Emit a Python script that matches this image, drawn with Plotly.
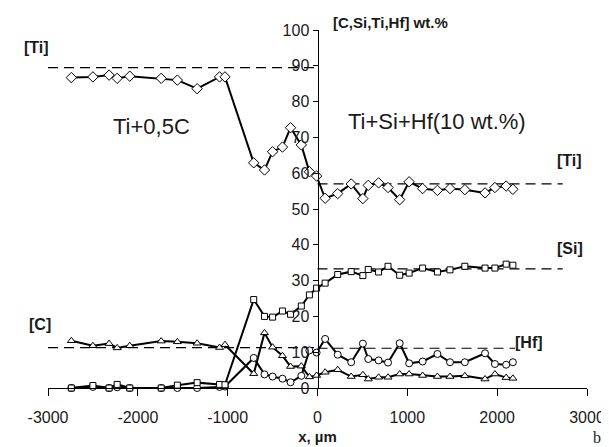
import plotly.graph_objects as go

# distance from the interface, um
x_um = [-2740, -2500, -2320, -2230, -2090, -1740, -1560, -1340, -1090, -1030,
        -710, -590, -500, -390, -300, -180, -90, -10, 85, 225,
        375, 505, 565, 680, 785, 915, 1020, 1170, 1335, 1475,
        1640, 1865, 1975, 2100, 2175]

ti = [86.7, 86.9, 87.4, 86.5, 87.1, 86.5, 86.0, 83.6, 86.9, 86.9,
      62.9, 60.9, 66.0, 67.3, 72.7, 67.9, 60.4, 59.2, 53.0, 54.3,
      57.0, 52.9, 56.6, 57.3, 56.0, 52.6, 57.6, 55.7, 55.2, 55.7,
      55.4, 54.5, 56.0, 56.4, 55.5]

si = [0.0, 0.7, 0.0, 1.0, 0.0, 0.0, 0.8, 1.5, 1.0, 0.9,
      24.7, 20.0, 19.8, 21.5, 20.6, 22.9, 26.0, 27.9, 29.3, 31.7,
      32.5, 31.4, 33.1, 32.4, 34.0, 31.5, 32.1, 33.5, 32.4, 33.0,
      34.0, 33.5, 33.5, 34.6, 34.3]

hf = [0.0, 0.3, 0.0, 0.2, 0.0, 0.0, 0.0, 0.0, 0.3, 0.4,
      8.4, 3.8, 3.2, 2.6, 1.6, 3.4, 10.5, 9.9, 13.7, 9.3,
      7.2, 12.4, 8.1, 7.7, 7.1, 12.5, 6.9, 7.4, 9.5, 7.2,
      7.2, 9.7, 6.7, 6.5, 7.2]

c = [13.2, 11.8, 12.4, 11.2, 11.8, 13.1, 12.9, 12.5, 11.3, 12.1,
     4.0, 15.4, 11.4, 9.0, 6.0, 6.1, 3.1, 3.5, 4.4, 5.1,
     3.2, 3.7, 2.5, 3.0, 3.0, 3.9, 3.9, 3.5, 3.2, 3.2,
     3.4, 2.5, 3.9, 2.9, 2.7]

# nominal composition levels (dashed lines)
left_x = [-3000, 0]
right_x = [0, 2730]
hf_x = [0, 2200]
ti_left_level = 89.5
c_level = 11.3
ti_right_level = 57.0
si_level = 33.3
hf_level = 11.1

x_ticks = [-3000, -2000, -1000, 0, 1000, 2000, 3000]
x_ticktext = ["-3000", "-2000", "-1000", "0", "1000", "2000", "3000"]

FONT = "Liberation Sans, Arial, sans-serif"
TXT = "#1a1a1a"

fig = go.Figure()

dashed = [
    (left_x, ti_left_level),
    (left_x, c_level),
    (right_x, ti_right_level),
    (right_x, si_level),
    (hf_x, hf_level),
]
for xs, lvl in dashed:
    fig.add_trace(go.Scatter(
        x=xs, y=[lvl] * len(xs), mode="lines",
        line=dict(color="black", width=1.2, dash="10px,6px"),
        hoverinfo="skip", showlegend=False,
    ))

series = [
    ("C", c, "triangle-up", 7),
    ("Hf", hf, "circle", 7),
    ("Si", si, "square", 6),
    ("Ti", ti, "diamond", 8),
]
for name, vals, sym, sz in series:
    fig.add_trace(go.Scatter(
        x=x_um, y=vals, mode="lines+markers", name=name,
        line=dict(color="black", width=2),
        marker=dict(symbol=sym, size=sz, color="white",
                    line=dict(color="black", width=1)),
        showlegend=False, cliponaxis=False,
    ))

# text labels, paper coordinates (centre of the text)
labels = [
    ("[Ti]", -0.022, 0.952, 16, True),
    ("[C]", -0.015, 0.178, 16, True),
    ("[Ti]", 0.967, 0.636, 16, True),
    ("[Si]", 0.969, 0.389, 16, True),
    ("[Hf]", 0.893, 0.128, 16, True),
    ("[C,Si,Ti,Hf] wt.%", 0.635, 1.02, 15, True),
    ("Ti+0,5C", 0.192, 0.73, 22, False),
    ("Ti+Si+Hf(10 wt.%)", 0.722, 0.745, 22, False),
]
for txt, px, py, fs, bold in labels:
    fig.add_annotation(
        xref="paper", yref="paper", x=px, y=py,
        xanchor="center", yanchor="middle",
        text=f"<b>{txt}</b>" if bold else txt,
        showarrow=False, font=dict(family=FONT, size=fs, color=TXT),
    )

fig.add_annotation(
    xref="paper", yref="paper", x=1.028, y=-0.139, xanchor="right", yanchor="middle",
    text="b", showarrow=False, borderpad=0,
    font=dict(family="Liberation Serif, Times New Roman, serif", size=16, color=TXT),
)

fig.update_layout(
    width=609, height=447,
    margin=dict(l=40, r=18, t=22, b=65),
    paper_bgcolor="white", plot_bgcolor="white",
    font=dict(family=FONT, color=TXT),
    xaxis=dict(
        range=[-3000, 3000], tickvals=x_ticks, ticktext=x_ticktext,
        showgrid=False, zeroline=False,
        showline=True, linecolor="black", linewidth=1,
        ticks="outside", ticklen=7, tickcolor="black",
        tickfont=dict(size=16, color=TXT), ticklabelstandoff=8,
        title=dict(text="<b>x, µm</b>", font=dict(size=15, color=TXT), standoff=6),
    ),
    yaxis=dict(
        range=[0, 100], dtick=10, showgrid=False, zeroline=False,
        anchor="free", position=0.5,
        showline=True, linecolor="black", linewidth=1,
        ticks="outside", ticklen=5, tickcolor="black",
        tickfont=dict(size=16, color=TXT),
    ),
)

fig.write_html("out.html")
